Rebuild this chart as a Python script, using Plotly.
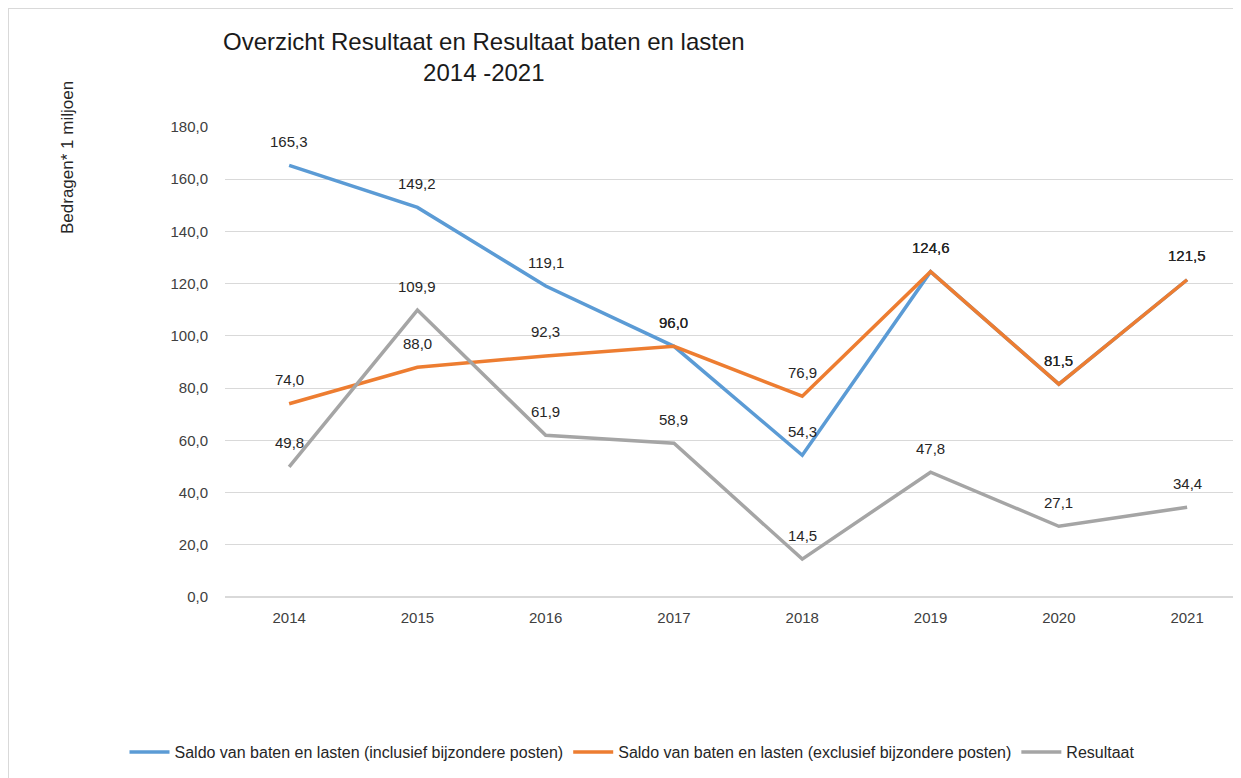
import plotly.graph_objects as go

years = ["2014", "2015", "2016", "2017", "2018", "2019", "2020", "2021"]
saldo_incl = [165.3, 149.2, 119.1, 96.0, 54.3, 124.6, 81.5, 121.5]
saldo_excl = [74.0, 88.0, 92.3, 96.0, 76.9, 124.6, 81.5, 121.5]
resultaat = [49.8, 109.9, 61.9, 58.9, 14.5, 47.8, 27.1, 34.4]
yticks = [0, 20, 40, 60, 80, 100, 120, 140, 160, 180]

series = [
    ("Saldo van baten en lasten (inclusief bijzondere posten)", saldo_incl, "#5B9BD5"),
    ("Saldo van baten en lasten (exclusief bijzondere posten)", saldo_excl, "#ED7D31"),
    ("Resultaat", resultaat, "#A5A5A5"),
]

FONT = "Liberation Sans"
TXT = "#262626"
fig = go.Figure()
for name, vals, col in series:
    fig.add_trace(go.Scatter(x=years, y=vals, name=name, mode="lines",
                             line=dict(color=col, width=3.5), hoverinfo="skip"))

def fmt(v):
    return f"{v:.1f}".replace(".", ",")

# page offset: body margin of 8px
PX0, PX1 = 225, 1241   # plot area left/right on page
PY0, PY1 = 127, 597    # plot area top/bottom on page

def px(x):
    return (x - PX0) / (PX1 - PX0)

def py(y):
    return (PY1 - y) / (PY1 - PY0)

annotations = []
for name, vals, col in series:
    for i, v in enumerate(vals):
        annotations.append(dict(x=i, y=v, xref="x", yref="y", text=fmt(v),
                                showarrow=False, yshift=24,
                                font=dict(family=FONT, size=15, color=TXT)))

annotations.append(dict(text="Overzicht Resultaat en Resultaat baten en lasten<br>2014 -2021",
                        xref="paper", yref="paper", x=px(484), y=py(57),
                        showarrow=False, xanchor="center", yanchor="middle",
                        font=dict(family=FONT, size=24, color="#1a1a1a")))
annotations.append(dict(text="Bedragen* 1 miljoen", textangle=-90,
                        xref="paper", yref="paper", x=px(67), y=py(158),
                        showarrow=False, xanchor="center", yanchor="middle",
                        font=dict(family=FONT, size=17, color=TXT)))

fig.update_layout(
    width=1233, height=770,
    margin=dict(l=PX0 - 8, r=0, t=PY0 - 8, b=770 - (PY1 - 8)),
    paper_bgcolor="white", plot_bgcolor="white",
    separators=",.",
    showlegend=True,
    legend=dict(orientation="h", x=px(632), xanchor="center",
                y=py(752), yanchor="middle",
                font=dict(family=FONT, size=16, color=TXT),
                itemwidth=40, tracegroupgap=0),
    annotations=annotations,
    shapes=[
        dict(type="line", xref="paper", yref="paper", x0=px(8), x1=1.0,
             y0=py(8.5), y1=py(8.5), line=dict(color="#D9D9D9", width=1)),
        dict(type="line", xref="paper", yref="paper", x0=px(8.5), x1=px(8.5),
             y0=py(8), y1=py(800), line=dict(color="#D9D9D9", width=1)),
    ],
)
fig.update_xaxes(type="category", range=[-0.5, 7.42], showgrid=False, showline=False,
                 ticks="", ticklabelstandoff=10,
                 tickfont=dict(family=FONT, size=15, color="#404040"))
fig.update_yaxes(range=[0, 180], tickvals=yticks, tickformat=".1f", showgrid=True,
                 gridcolor="#D9D9D9", gridwidth=1, zeroline=True, zerolinecolor="#D9D9D9",
                 showline=False, ticks="", ticklabelstandoff=16,
                 tickfont=dict(family=FONT, size=15, color="#404040"))

fig.write_html("out.html")
